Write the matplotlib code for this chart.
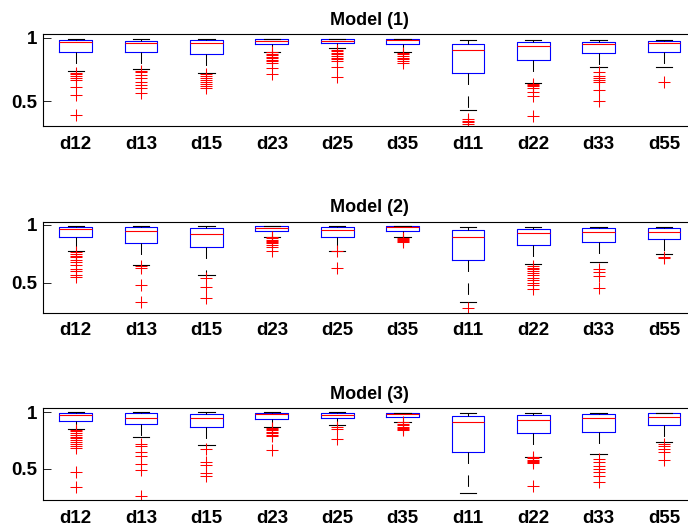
import matplotlib
matplotlib.use('Agg')
import matplotlib.pyplot as plt

plt.rcParams['font.family'] = ['Liberation Sans', 'DejaVu Sans']

### column names on the x axis
labels = ['d12', 'd13', 'd15', 'd23', 'd25', 'd35', 'd11', 'd22', 'd33', 'd55']
titles = ['Model (1)', 'Model (2)', 'Model (3)']

### Model (1) box statistics
m1_hi = [0.992, 0.992, 0.992, 0.994, 0.994, 0.994, 0.984, 0.984, 0.984, 0.984]
m1_q3 = [0.984, 0.977, 0.979, 0.987, 0.987, 0.987, 0.953, 0.963, 0.969, 0.974]
m1_med = [0.964, 0.956, 0.956, 0.977, 0.977, 0.979, 0.900, 0.932, 0.950, 0.956]
m1_q1 = [0.885, 0.890, 0.874, 0.948, 0.956, 0.950, 0.719, 0.826, 0.879, 0.885]
m1_lo = [0.735, 0.753, 0.721, 0.890, 0.916, 0.890, 0.429, 0.645, 0.771, 0.771]
m1_out = [
    [0.725, 0.71, 0.695, 0.68, 0.665, 0.61, 0.55, 0.39],
    [0.74, 0.73, 0.705, 0.68, 0.653, 0.626, 0.60, 0.561],
    [0.71, 0.695, 0.68, 0.665, 0.65, 0.635, 0.62, 0.605],
    [0.885, 0.873, 0.862, 0.85, 0.838, 0.826, 0.814, 0.80, 0.758, 0.713],
    [0.905, 0.893, 0.88, 0.868, 0.855, 0.843, 0.83, 0.815, 0.771, 0.692],
    [0.88, 0.868, 0.855, 0.843, 0.83, 0.815, 0.80],
    [0.36, 0.345, 0.33, 0.315],
    [0.635, 0.625, 0.615, 0.60, 0.57, 0.54, 0.383],
    [0.729, 0.697, 0.679, 0.665, 0.653, 0.587, 0.503],
    [0.653],
]

### Model (2)
m2_hi = [0.994, 0.994, 0.994, 0.994, 0.994, 0.994, 0.986, 0.986, 0.986, 0.986]
m2_q3 = [0.986, 0.980, 0.977, 0.988, 0.983, 0.988, 0.957, 0.962, 0.971, 0.974]
m2_med = [0.962, 0.951, 0.922, 0.977, 0.954, 0.980, 0.893, 0.933, 0.942, 0.936]
m2_q1 = [0.896, 0.847, 0.812, 0.951, 0.896, 0.945, 0.696, 0.824, 0.850, 0.876]
m2_lo = [0.777, 0.650, 0.569, 0.899, 0.772, 0.893, 0.335, 0.659, 0.679, 0.748]
m2_out = [
    [0.765, 0.75, 0.735, 0.72, 0.70, 0.68, 0.65, 0.62, 0.60, 0.57, 0.55],
    [0.645, 0.63, 0.482, 0.332],
    [0.543, 0.465, 0.370],
    [0.893, 0.883, 0.873, 0.863, 0.853, 0.84, 0.825, 0.81, 0.77],
    [0.772, 0.627],
    [0.887, 0.878, 0.87, 0.86, 0.85],
    [0.28],
    [0.645, 0.63, 0.615, 0.60, 0.58, 0.565, 0.54, 0.52, 0.50, 0.48, 0.44],
    [0.616, 0.590, 0.561, 0.457],
    [0.725, 0.716],
]

### Model (3)
m3_hi = [1.0, 1.0, 1.0, 1.0, 1.0, 0.994, 0.994, 0.994, 0.994, 0.994]
m3_q3 = [0.991, 0.994, 0.988, 0.991, 0.991, 0.994, 0.964, 0.976, 0.982, 0.991]
m3_med = [0.973, 0.947, 0.947, 0.982, 0.979, 0.985, 0.917, 0.932, 0.952, 0.958]
m3_q1 = [0.926, 0.896, 0.873, 0.941, 0.947, 0.961, 0.645, 0.816, 0.822, 0.884]
m3_lo = [0.852, 0.784, 0.710, 0.873, 0.890, 0.917, 0.284, 0.606, 0.630, 0.739]
m3_out = [
    [0.845, 0.83, 0.815, 0.80, 0.785, 0.77, 0.755, 0.74, 0.72, 0.70, 0.68, 0.467, 0.340],
    [0.715, 0.70, 0.645, 0.615, 0.541, 0.488, 0.260],
    [0.674, 0.556, 0.532, 0.458, 0.437],
    [0.865, 0.853, 0.84, 0.828, 0.815, 0.80, 0.79, 0.668],
    [0.87, 0.85, 0.763],
    [0.91, 0.898, 0.886, 0.874, 0.862, 0.85, 0.84],
    [],
    [0.60, 0.59, 0.58, 0.57, 0.56, 0.55, 0.343],
    [0.586, 0.556, 0.527, 0.497, 0.467, 0.432, 0.385],
    [0.718, 0.70, 0.675, 0.645, 0.577],
]

models = [
    (m1_lo, m1_q1, m1_med, m1_q3, m1_hi, m1_out),
    (m2_lo, m2_q1, m2_med, m2_q3, m2_hi, m2_out),
    (m3_lo, m3_q1, m3_med, m3_q3, m3_hi, m3_out),
]
ylims = [(0.303, 1.027), (0.239, 1.029), (0.222, 1.035)]
# axes rectangles in figure fraction (the right edge runs past the image, like the original)
rects = [[0.0626, 0.762, 0.950, 0.173],
         [0.0626, 0.409, 0.950, 0.172],
         [0.0626, 0.055, 0.950, 0.173]]

fig = plt.figure(figsize=(6.88, 5.29), dpi=100)

for k in range(3):
    lo, q1, med, q3, hi, out = models[k]
    stats = []
    for i in range(len(labels)):
        stats.append({'label': labels[i], 'whislo': lo[i], 'q1': q1[i], 'med': med[i],
                      'q3': q3[i], 'whishi': hi[i], 'fliers': out[i]})

    ax = fig.add_axes(rects[k])
    ax.bxp(stats, positions=range(1, 11), widths=0.5, capwidths=0.25,
           boxprops=dict(color='blue', linewidth=0.8),
           medianprops=dict(color='red', linewidth=0.8),
           whiskerprops=dict(color='black', linewidth=0.75, linestyle=(0, (11, 11))),
           capprops=dict(color='black', linewidth=0.8),
           flierprops=dict(marker='+', markeredgecolor='red', markersize=8.5,
                           markeredgewidth=0.75, linestyle='none'))

    ax.set_xlim(0.5, 10.5)
    ax.set_ylim(ylims[k])
    ax.set_yticks([0.5, 1])
    ax.set_yticklabels(['0.5', '1'], fontsize=13.5, fontweight='bold')
    ax.set_xticks(range(1, 11))
    ax.set_xticklabels(labels, fontsize=13.5, fontweight='bold')
    ax.tick_params(axis='x', length=0, pad=7)
    ax.tick_params(axis='y', direction='in', length=6, width=0.6, pad=4)
    for s in ax.spines.values():
        s.set_linewidth(0.8)
    ax.set_title(titles[k], fontsize=13, fontweight='bold', pad=7)

fig.savefig('out.png', dpi=100)
